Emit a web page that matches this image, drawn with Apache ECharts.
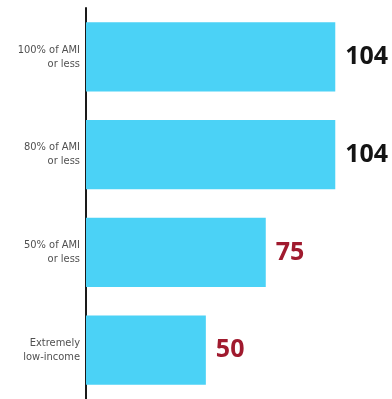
<!DOCTYPE html>
<html>
<head>
<meta charset="utf-8">
<script src="https://cdn.jsdelivr.net/npm/echarts@6/dist/echarts.min.js"></script>
<style>
  html, body { margin: 0; padding: 0; background: #ffffff; }
  #chart { width: 392px; height: 399px; }
</style>
</head>
<body>
<div id="chart"></div>
<script>
// Income tiers (top to bottom) and the value shown for each
const categories = ['100% of AMI\nor less', '80% of AMI\nor less', '50% of AMI\nor less', 'Extremely\nlow-income'];
const values = [104, 104, 75, 50];

// Value labels: full-coverage tiers in black, the rest in dark red
const labelColor = v => (v >= 100 ? '#141414' : '#a01a2e');

const chart = echarts.init(document.getElementById('chart'), null, { renderer: 'canvas' });

chart.setOption({
  animation: false,
  backgroundColor: '#ffffff',
  grid: { left: 86, right: 4, top: 8, bottom: -4, containLabel: false },
  xAxis: {
    type: 'value',
    min: 0,
    max: 126,
    show: false
  },
  yAxis: {
    type: 'category',
    inverse: true,
    data: categories,
    axisLine: { show: true, lineStyle: { color: '#1a1a1a', width: 2 } },
    axisTick: { show: false },
    axisLabel: {
      margin: 6,
      color: '#505050',
      fontFamily: '"DejaVu Sans Condensed", "Liberation Sans", sans-serif',
      fontSize: 11,
      lineHeight: 14,
      align: 'right'
    }
  },
  series: [{
    type: 'bar',
    data: values.map(v => ({
      value: v,
      label: { color: labelColor(v) }
    })),
    barCategoryGap: '29%',
    itemStyle: { color: '#4bd2f6' },
    label: {
      show: true,
      position: 'right',
      distance: 10,
      fontFamily: '"Open Sans", sans-serif',
      fontWeight: 'bold',
      fontSize: 25
    }
  }]
});
</script>
</body>
</html>
